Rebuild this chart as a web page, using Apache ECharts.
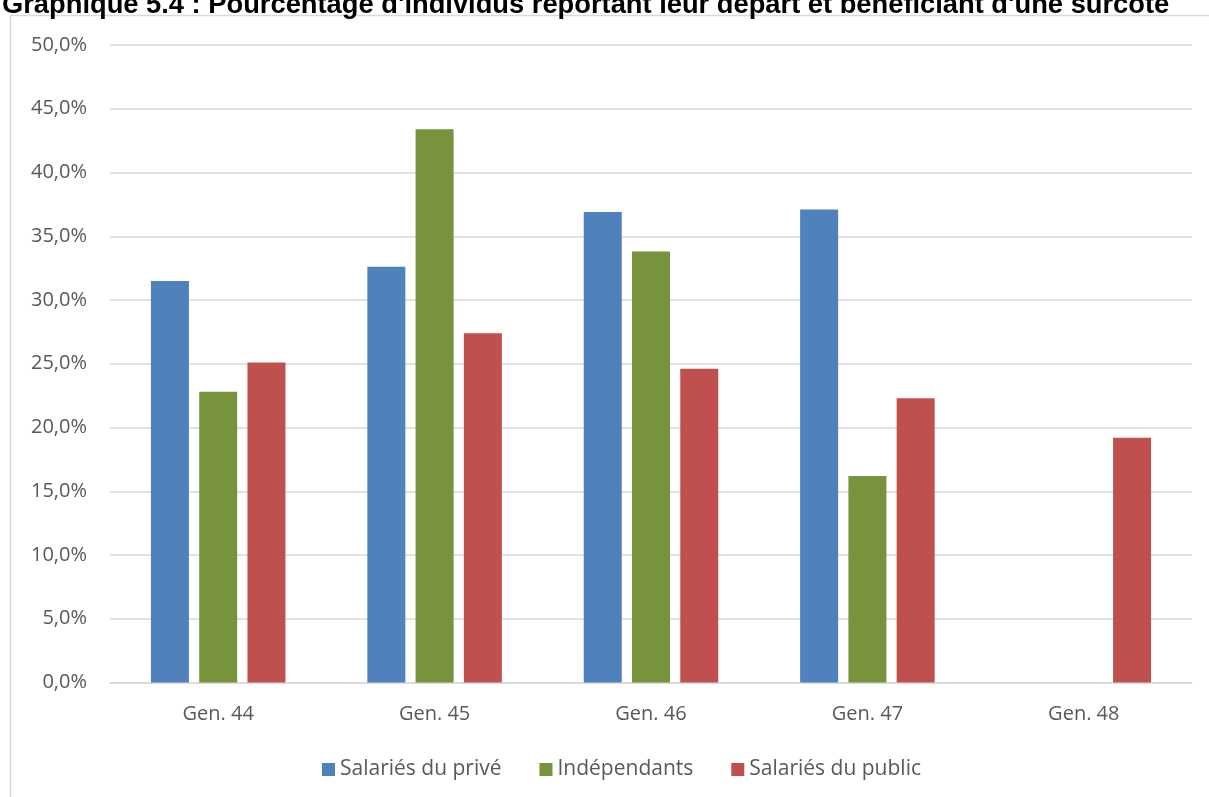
<!DOCTYPE html>
<html>
<head>
<meta charset="utf-8">
<script src="https://cdn.jsdelivr.net/npm/echarts@6/dist/echarts.min.js"></script>
<style>
  html, body { margin: 0; padding: 0; background: #ffffff; }
  #chart { width: 1209px; height: 797px; }
</style>
</head>
<body>
<div id="chart"></div>
<script>
// Share of people postponing retirement and receiving a bonus (surcote), by generation
const categories = ['Gen. 44', 'Gen. 45', 'Gen. 46', 'Gen. 47', 'Gen. 48'];
const seriesNames = ['Salariés du privé', 'Indépendants', 'Salariés du public'];
const prive = [31.5, 32.6, 36.9, 37.1, null];
const independants = [22.8, 43.4, 33.8, 16.2, null];
const publicSal = [25.1, 27.4, 24.6, 22.3, 19.2];
const titleText = "Graphique 5.4 : Pourcentage d'individus reportant leur départ et bénéficiant d'une surcote";

const colors = ['#4f81bd', '#77933c', '#c0504d'];
const FONT = '"Open Sans", sans-serif';

const chart = echarts.init(document.getElementById('chart'), null, { renderer: 'canvas' });

function barSeries(name, data, color) {
  return {
    name: name,
    type: 'bar',
    data: data,
    barWidth: 38,
    barGap: '27%',
    itemStyle: { color: color },
    emphasis: { disabled: true }
  };
}

chart.setOption({
  animation: false,
  backgroundColor: '#ffffff',
  graphic: [
    {
      type: 'rect',
      shape: { x: 10.5, y: 15.5, width: 1400, height: 1000 },
      style: { fill: 'none', stroke: '#d9d9d9', lineWidth: 1.5 },
      silent: true,
      z: -1
    },
    {
      type: 'text',
      x: 2,
      y: 19,
      style: {
        text: titleText,
        font: 'bold 27.3px "Liberation Sans", Arial, sans-serif',
        fill: '#000000',
        verticalAlign: 'bottom'
      },
      silent: true
    }
  ],
  grid: { left: 110, right: 17, top: 45, bottom: 114.5, containLabel: false },
  legend: {
    data: seriesNames,
    bottom: 12,
    left: 317,
    itemWidth: 13,
    itemHeight: 13,
    itemGap: 38,
    icon: 'rect',
    textStyle: { fontFamily: FONT, fontSize: 21, color: '#595959', padding: [0, 0, 0, 0] }
  },
  xAxis: {
    type: 'category',
    data: categories,
    axisLine: { lineStyle: { color: '#d9d9d9', width: 1.5 } },
    axisTick: { show: false },
    axisLabel: { fontFamily: FONT, fontSize: 20, color: '#595959', margin: 22 }
  },
  yAxis: {
    type: 'value',
    min: 0,
    max: 50,
    interval: 5,
    axisLine: { show: false },
    axisTick: { show: false },
    splitLine: { lineStyle: { color: '#d9d9d9', width: 1.5 } },
    axisLabel: {
      fontFamily: FONT,
      fontSize: 20,
      color: '#595959',
      margin: 23,
      formatter: v => v.toFixed(1).replace('.', ',') + '%'
    }
  },
  series: [
    barSeries(seriesNames[0], prive, colors[0]),
    barSeries(seriesNames[1], independants, colors[1]),
    barSeries(seriesNames[2], publicSal, colors[2])
  ]
});
</script>
</body>
</html>
